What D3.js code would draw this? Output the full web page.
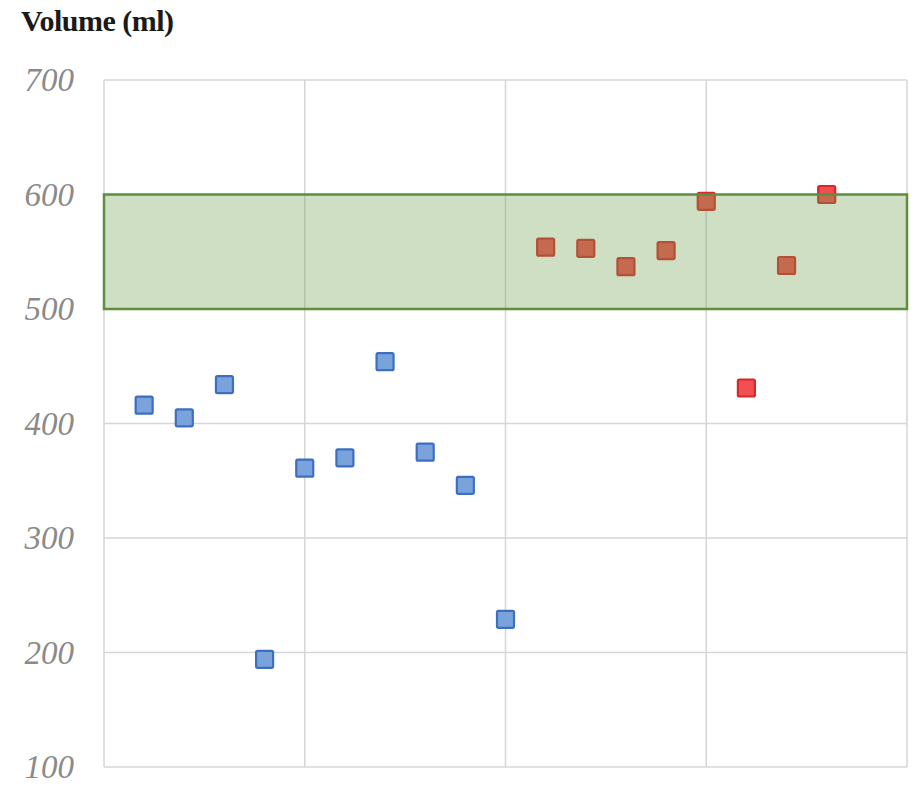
<!DOCTYPE html>
<html>
<head>
<meta charset="utf-8">
<script src="https://cdn.jsdelivr.net/npm/d3@7"></script>
<style>
  body { margin: 0; background: #fff; }
  svg { display: block; }
</style>
</head>
<body>
<div id="chart"></div>
<script>
// data
const bluePoints = [416, 405, 434, 194, 361, 370, 454, 375, 346, 229];
const redPoints = [554, 553, 537, 551, 594, 431, 538, 600];
const yTicks = [100, 200, 300, 400, 500, 600, 700];
const xGrid = [0, 5, 10, 15, 20];
const band = [500, 600];

const width = 921, height = 789;
const margin = { top: 80, right: 14, bottom: 22, left: 104 };

const svg = d3.select("#chart").append("svg")
  .attr("width", width)
  .attr("height", height);

const x = d3.scaleLinear().domain([0, 20]).range([margin.left, width - margin.right]);
const y = d3.scaleLinear().domain([100, 700]).range([height - margin.bottom, margin.top]);

// gridlines
svg.append("g").selectAll("line.h")
  .data(yTicks)
  .enter().append("line")
  .attr("x1", x(0)).attr("x2", x(20))
  .attr("y1", d => y(d)).attr("y2", d => y(d))
  .attr("stroke", "#d6d6d6").attr("stroke-width", 1.5);

svg.append("g").selectAll("line.v")
  .data(xGrid)
  .enter().append("line")
  .attr("x1", d => x(d)).attr("x2", d => x(d))
  .attr("y1", y(100)).attr("y2", y(700))
  .attr("stroke", "#d6d6d6").attr("stroke-width", 1.5);

// y tick labels
svg.append("g").selectAll("text")
  .data(yTicks)
  .enter().append("text")
  .attr("x", 74)
  .attr("y", d => y(d) + 11)
  .attr("text-anchor", "end")
  .style("font-family", "'Liberation Serif', 'DejaVu Serif', serif")
  .style("font-style", "italic")
  .style("font-size", "33px")
  .style("fill", "#8a8a8a")
  .text(d => d);

// title
svg.append("text")
  .attr("x", 21).attr("y", 31)
  .style("font-family", "'Liberation Serif', 'DejaVu Serif', serif")
  .style("font-weight", "bold")
  .style("font-size", "30px")
  .style("letter-spacing", "-0.5px")
  .style("fill", "#1a1a1a")
  .text("Volume (ml)");

const s = 17;
function drawSquares(data, offset, fill, stroke) {
  svg.append("g").selectAll("rect")
    .data(data)
    .enter().append("rect")
    .attr("x", (d, i) => x(i + offset) - s / 2)
    .attr("y", d => y(d) - s / 2)
    .attr("width", s).attr("height", s)
    .attr("rx", 1.5)
    .attr("fill", fill)
    .attr("stroke", stroke)
    .attr("stroke-width", 2.2);
}

drawSquares(bluePoints, 1, "#7aa3dc", "#3d6fc0");
drawSquares(redPoints, 11, "#f05050", "#d8262a");

// target band on top of the points
svg.append("rect")
  .attr("x", x(0)).attr("width", x(20) - x(0))
  .attr("y", y(band[1])).attr("height", y(band[0]) - y(band[1]))
  .attr("fill", "rgba(110,160,80,0.34)")
  .attr("stroke", "#5f8f3e")
  .attr("stroke-width", 2.5);
</script>
</body>
</html>
